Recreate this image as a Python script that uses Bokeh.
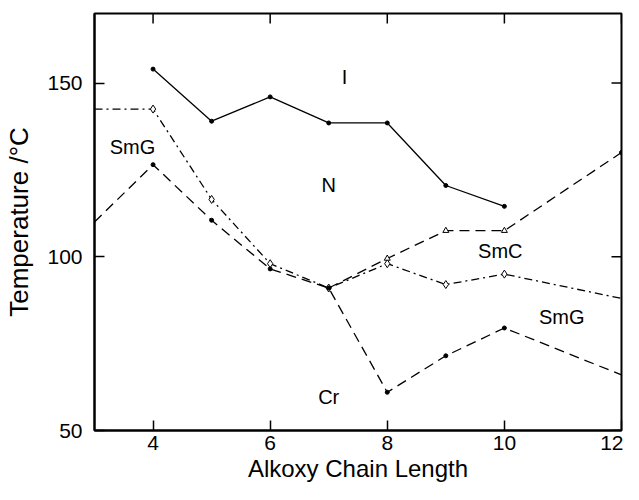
from bokeh.plotting import figure
from bokeh.models import FixedTicker, Range1d
from bokeh.core.properties import value
from bokeh.embed import file_html
from bokeh.resources import INLINE

# ---- data ----
x_ticks = [4, 6, 8, 10, 12]
y_ticks = [50, 100, 150]

x_clear = [4, 5, 6, 7, 8, 9, 10]
t_clear = [154, 139, 146, 138.5, 138.5, 120.5, 114.5]

x_smg = [3, 4, 5, 6, 7, 8, 9, 10, 12]
t_smg = [142.5, 142.5, 116.5, 98, 91, 98, 92, 95, 88]

x_cr = [3, 4, 5, 6, 7, 8, 9, 10, 12]
t_cr = [110, 126.5, 110.5, 96.5, 91, 61, 71.5, 79.5, 66]

x_smc = [7, 8, 9, 10, 12]
t_smc = [91, 99.5, 107.5, 107.5, 130]

label_text = ["I", "N", "SmG", "SmC", "SmG", "Cr"]
label_x = [7.27, 7.0, 3.65, 9.93, 10.98, 7.0]
label_y = [151.7, 120.6, 131.5, 101.7, 82.6, 59.7]

FONT = "Liberation Sans"
X0, X1, Y0, Y1 = 3, 12, 50, 170
W, H = 623, 484
BL, BR, BT, BB = 94, 2, 13, 54

p = figure(width=W, height=H,
           x_range=Range1d(X0, X1), y_range=Range1d(Y0, Y1),
           output_backend="svg", toolbar_location=None,
           min_border_left=BL, min_border_right=BR, min_border_top=BT, min_border_bottom=BB)
p.background_fill_color = "white"
p.border_fill_color = "white"
p.xgrid.visible = False
p.ygrid.visible = False
p.outline_line_color = "black"
p.outline_line_width = 2

lw = 1.3
p.line(x_clear, t_clear, line_color="black", line_width=lw)
p.scatter(x_clear, t_clear, marker="circle", size=4, color="black")

p.line(x_smg, t_smg, line_color="black", line_width=lw, line_dash="8 4 2 4")
p.scatter(x_smg[1:-1], t_smg[1:-1], marker="diamond", size=8,
          line_color="black", fill_color="white", line_width=1)

p.line(x_cr, t_cr, line_color="black", line_width=lw, line_dash="10 6")
p.scatter(x_cr[1:-1], t_cr[1:-1], marker="circle", size=4, color="black")

p.line(x_smc, t_smc, line_color="black", line_width=lw, line_dash="10 6")
p.scatter(x_smc[1:-1], t_smc[1:-1], marker="triangle", size=6,
          line_color="black", fill_color="white", line_width=1)
p.scatter(x_smc[-1:], t_smc[-1:], marker="circle", size=4, color="black")

p.text(label_x, label_y, text=label_text, text_font=value(FONT),
       text_font_size="20px", text_align="center", text_baseline="middle",
       text_color="black")

# inward ticks on the top and right edges (box axes without labels)
fw = W - BL - BR
fh = H - BT - BB
tick_px = 10
dx = tick_px * (X1 - X0) / fw
dy = tick_px * (Y1 - Y0) / fh
p.segment(x0=x_ticks, y0=[Y1] * len(x_ticks), x1=x_ticks, y1=[Y1 - dy] * len(x_ticks),
          line_color="black", line_width=1.5)
p.segment(x0=[X1] * len(y_ticks), y0=y_ticks, x1=[X1 - dx] * len(y_ticks), y1=y_ticks,
          line_color="black", line_width=1.5)

xa = p.xaxis[0]
ya = p.yaxis[0]
xa.ticker = FixedTicker(ticks=x_ticks)
ya.ticker = FixedTicker(ticks=y_ticks)
for ax in (xa, ya):
    ax.axis_line_color = "black"
    ax.axis_line_width = 2
    ax.major_tick_in = tick_px
    ax.major_tick_out = 0
    ax.major_tick_line_width = 1.5
    ax.minor_tick_line_color = None
    ax.major_label_text_font = FONT
    ax.major_label_text_font_size = "21px"
    ax.major_label_text_color = "black"
    ax.axis_label_text_font = FONT
    ax.axis_label_text_font_style = "normal"
    ax.axis_label_text_color = "black"
xa.axis_label = "Alkoxy Chain Length"
xa.axis_label_text_font_size = "24px"
xa.major_label_standoff = 5
xa.axis_label_standoff = 2
ya.axis_label = "Temperature /°C"
ya.axis_label_text_font_size = "26px"
ya.major_label_standoff = 12
ya.axis_label_standoff = 10

open("out.html", "w").write(file_html(p, INLINE))
